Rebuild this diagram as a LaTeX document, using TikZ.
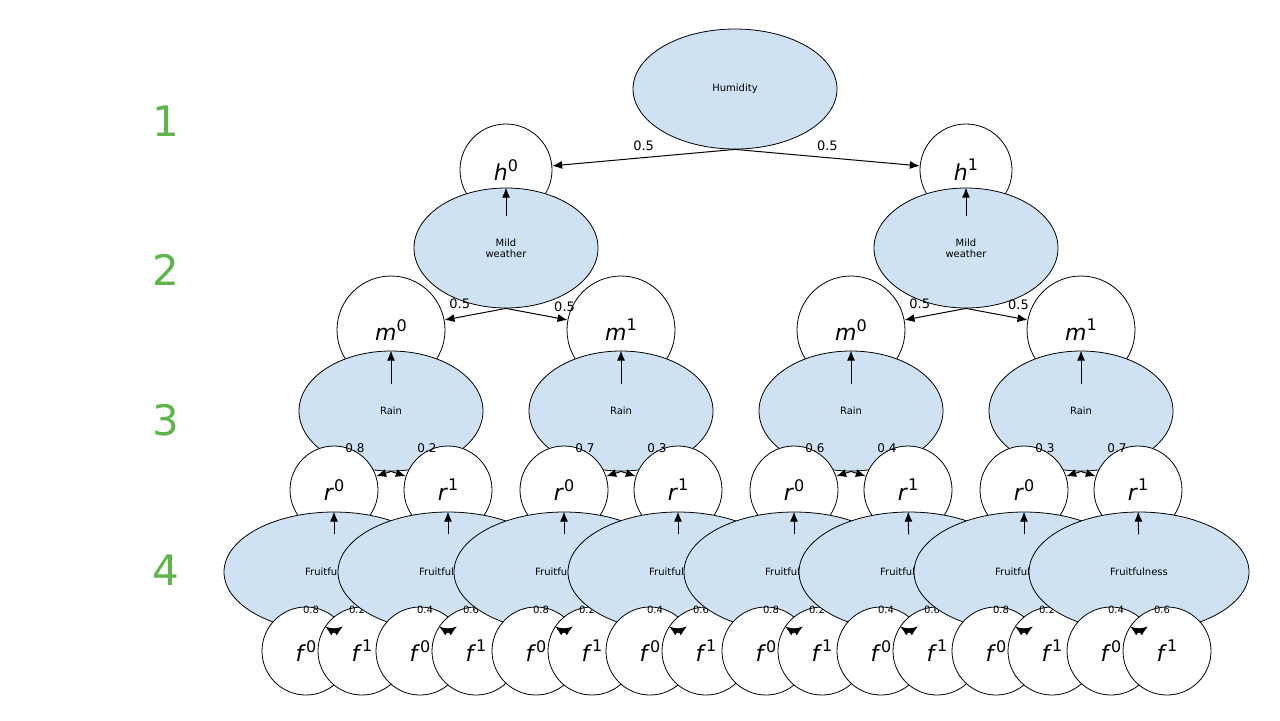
\documentclass[tikz,border=0pt]{standalone}
\usepackage{fontspec}
\setmainfont{DejaVu Sans}
\usetikzlibrary{shapes.geometric,arrows.meta}
\definecolor{nodeblue}{RGB}{207,226,243}
\definecolor{levelgreen}{RGB}{95,180,75}
\tikzset{
  var/.style={ellipse,draw,fill=nodeblue,inner sep=0pt,font=\fontsize{5}{5.5}\selectfont,align=center},
  val/.style={circle,draw,fill=white,inner sep=0pt,font=\fontsize{11}{11}\selectfont},
  edge/.style={-{Latex[length=5pt,width=4pt]},line width=0.5pt},
  prob/.style={font=\fontsize{6.5}{7}\selectfont},
  lvl/.style={text=levelgreen,font=\fontsize{21}{21}\selectfont}
}
\newcommand{\vv}[2]{\textit{#1}\raisebox{0.45em}{\fontsize{8}{8}\selectfont #2}}
\begin{document}
\begin{tikzpicture}[x=0.5pt,y=-0.5pt]
  \useasboundingbox (0,0) rectangle (1280,720);
  \foreach \n/\y in {1/121,2/270,3/420,4/570}
    \node[lvl] (lvl\n) at (166,\y) {\n};

  \node[var,minimum width=102,minimum height=60] (hum) at (735,89) {Humidity};
  \node[val,minimum size=46] (h0) at (506,170) {\vv{h}{0}};
  \node[val,minimum size=46] (h1) at (966,170) {\vv{h}{1}};
  \draw[edge] (hum.south) -- (h0) node[prob,pos=0.5,above] {0.5};
  \draw[edge] (hum.south) -- (h1) node[prob,pos=0.5,above] {0.5};

  \foreach \i/\x in {0/506,1/966} {
    \node[var,minimum width=92,minimum height=60] (mw\i) at (\x,248) {Mild\\weather};
    \draw[edge] (h\i) -- (mw\i);
  }
  \node[val,minimum size=54] (m00) at (391,330) {\vv{m}{0}};
  \node[val,minimum size=54] (m01) at (621,330) {\vv{m}{1}};
  \node[val,minimum size=54] (m10) at (851,330) {\vv{m}{0}};
  \node[val,minimum size=54] (m11) at (1081,330) {\vv{m}{1}};
  \draw[edge] (mw0.south) -- (m00) node[prob,pos=0.5,above left=-1pt] {0.5};
  \draw[edge] (mw0.south) -- (m01) node[prob,pos=0.7,above right=-1pt] {0.5};
  \draw[edge] (mw1.south) -- (m10) node[prob,pos=0.5,above left=-1pt] {0.5};
  \draw[edge] (mw1.south) -- (m11) node[prob,pos=0.6,above right=-1pt] {0.5};

  % rain level
  \foreach \k/\x/\pa/\pb [count=\c] in {00/391/0.8/0.2,01/621/0.7/0.3,10/851/0.6/0.4,11/1081/0.3/0.7} {
    \node[var,minimum width=92,minimum height=60] (rain\c) at (\x,411) {Rain};
    \draw[edge] (m\k) -- (rain\c);
    \node[val,minimum size=44] (r\c a) at (\x-57,490) {\vv{r}{0}};
    \node[val,minimum size=44] (r\c b) at (\x+57,490) {\vv{r}{1}};
    \draw[edge] (rain\c.south) -- (r\c a);
    \draw[edge] (rain\c.south) -- (r\c b);
    \node[prob,font=\fontsize{6}{6}\selectfont] (pr\c a) at (\x-36,448) {\pa};
    \node[prob,font=\fontsize{6}{6}\selectfont] (pr\c b) at (\x+36,448) {\pb};
  }

  % fruitfulness level
  \foreach \r/\x/\pa/\pb [count=\c] in {1a/334/0.8/0.2,1b/448/0.4/0.6,2a/564/0.8/0.2,2b/678/0.4/0.6,
                                       3a/794/0.8/0.2,3b/909/0.4/0.6,4a/1024/0.8/0.2,4b/1139/0.4/0.6} {
    \node[var,minimum width=110,minimum height=60] (fr\c) at (\x,572) {Fruitfulness};
    \draw[edge] (r\r) -- (fr\c);
    \node[val,minimum size=44] (f\c a) at (\x-28,651) {\vv{f}{0}};
    \node[val,minimum size=44] (f\c b) at (\x+28,651) {\vv{f}{1}};
    \draw[edge] (fr\c.south) -- (f\c a);
    \draw[edge] (fr\c.south) -- (f\c b);
    \node[prob,font=\fontsize{5}{5}\selectfont] (pf\c a) at (\x-23,610) {\pa};
    \node[prob,font=\fontsize{5}{5}\selectfont] (pf\c b) at (\x+23,610) {\pb};
  }
\end{tikzpicture}
\end{document}
